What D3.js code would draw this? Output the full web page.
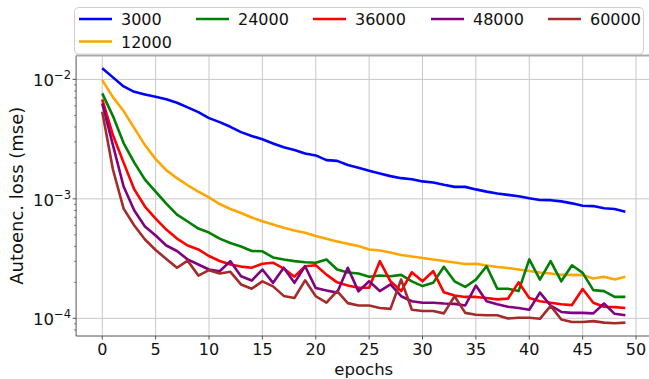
<!DOCTYPE html>
<html><head><meta charset="utf-8">
<script src="https://cdn.jsdelivr.net/npm/d3@7"></script>
<style>body{margin:0;background:#fff}svg{display:block;font-family:"DejaVu Sans",sans-serif}</style>
</head><body><div id="chart"></div>
<script>
const epochs = d3.range(0, 50);
const seriesNames = ["3000", "12000", "24000", "36000", "48000", "60000"];
const seriesColors = ["#0000ff", "#ffa500", "#008000", "#ff0000", "#800080", "#a52a2a"];
const loss3000 = [0.0124,0.0104,0.00874,0.00787,0.00749,0.00715,0.00681,0.00637,0.00583,0.00532,
  0.00474,0.00439,0.00401,0.00362,0.00336,0.00315,0.00291,0.00270,0.00256,0.00240,
  0.00231,0.00211,0.00208,0.00192,0.00182,0.00172,0.00163,0.00155,0.00149,0.00146,
  0.00140,0.00137,0.00131,0.00126,0.00126,0.00120,0.00115,0.00111,0.00108,0.00105,
  0.00101,0.000977,0.000975,0.000953,0.000917,0.000875,0.00087,0.000834,0.000822,0.000781];
const loss12000 = [0.00987,0.00711,0.00543,0.00391,0.00282,0.00215,0.00174,0.00149,0.00130,0.00115,
  0.00103,0.000905,0.000822,0.000761,0.000698,0.00065,0.00061,0.000572,0.000543,0.00052,
  0.000489,0.000463,0.00044,0.00042,0.000403,0.000377,0.000369,0.000355,0.000339,0.000329,
  0.00032,0.000311,0.000302,0.000293,0.000285,0.000286,0.000277,0.000269,0.000264,0.000256,
  0.000249,0.000242,0.000237,0.000231,0.000231,0.00023,0.000215,0.000223,0.000211,0.000223];
const loss24000 = [0.00764,0.00493,0.00293,0.00201,0.00145,0.00115,0.000913,0.000739,0.000646,0.000564,
  0.000522,0.000465,0.000427,0.000399,0.000366,0.000364,0.000323,0.000311,0.000301,0.000295,
  0.000292,0.000311,0.000256,0.000242,0.000237,0.000223,0.000228,0.000225,0.000231,0.000204,
  0.000186,0.000198,0.00027,0.000204,0.000183,0.000211,0.000273,0.000177,0.000177,0.000169,
  0.000311,0.000211,0.000301,0.000204,0.000278,0.00024,0.000172,0.000169,0.000151,0.000151];
const loss36000 = [0.00681,0.00342,0.00201,0.00120,0.000862,0.000684,0.000553,0.000465,0.000407,0.000377,
  0.000332,0.000302,0.000282,0.000271,0.000265,0.000286,0.000292,0.000261,0.000223,0.000273,
  0.000278,0.000232,0.0002,0.000188,0.00018,0.00018,0.000301,0.000204,0.000169,0.000243,
  0.000204,0.000248,0.000165,0.000155,0.000151,0.000151,0.000148,0.000144,0.000146,0.0002,
  0.000148,0.000139,0.000135,0.000131,0.000129,0.000176,0.000135,0.000125,0.000124,0.000122];
const loss48000 = [0.0063,0.00282,0.00127,0.000798,0.000586,0.000493,0.000407,0.000366,0.000311,0.000282,
  0.000256,0.000248,0.000301,0.000225,0.000207,0.000256,0.000198,0.000265,0.000198,0.000273,
  0.000179,0.000171,0.000164,0.000265,0.000168,0.000204,0.000169,0.000192,0.000153,0.000139,
  0.000135,0.000135,0.000133,0.000132,0.000128,0.000188,0.000139,0.000131,0.000125,0.000122,
  0.000118,0.000164,0.000128,0.000113,0.000111,0.000111,0.00011,0.000133,0.000109,0.000106];
const loss60000 = [0.00536,0.00176,0.000829,0.000598,0.000457,0.000373,0.000314,0.000265,0.000304,0.000228,
  0.000253,0.000237,0.000245,0.000192,0.000177,0.000204,0.000185,0.000154,0.000148,0.000208,
  0.000153,0.000135,0.000169,0.000134,0.000128,0.000128,0.000122,0.00012,0.000211,0.000118,
  0.000115,0.000115,0.00011,0.000153,0.000111,0.000107,0.000106,0.000106,0.0000996,0.000101,
  0.000101,0.000099,0.000127,0.0000977,0.000093,0.000093,0.0000947,0.000092,0.0000909,0.000092];
const seriesValues = [loss3000, loss12000, loss24000, loss36000, loss48000, loss60000];
const xTicks = [0, 5, 10, 15, 20, 25, 30, 35, 40, 45, 50];
const yTicks = [1e-4, 1e-3, 1e-2];
const yTickExps = ["−4", "−3", "−2"];
const xLabel = "epochs";
const yLabel = "Autoenc. loss (mse)";

const W = 649, H = 379;
const M = {left: 76.1, right: 651.5, top: 55.5, bottom: 336};
const svg = d3.select("#chart").append("svg").attr("width", W).attr("height", H);

const x = d3.scaleLinear().domain([-2.45, 51.45]).range([M.left, M.right]);
const allV = seriesValues.flat();
const lmin = Math.log10(d3.min(allV)), lmax = Math.log10(d3.max(allV));
const pad = (lmax - lmin) * 0.05;
const y = d3.scaleLog().domain([Math.pow(10, lmin - pad), Math.pow(10, lmax + pad)]).range([M.bottom, M.top]);

// grid
const g = svg.append("g");
g.selectAll(".gx").data(xTicks).join("line")
  .attr("x1", d => x(d)).attr("x2", d => x(d)).attr("y1", M.top).attr("y2", M.bottom)
  .attr("stroke", "#c8c8c8").attr("stroke-width", 1);
g.selectAll(".gy").data(yTicks).join("line")
  .attr("x1", M.left).attr("x2", M.right).attr("y1", d => y(d)).attr("y2", d => y(d))
  .attr("stroke", "#c8c8c8").attr("stroke-width", 1);

// lines
const line = d3.line().x((d, i) => x(epochs[i])).y(d => y(d));
svg.append("g").selectAll("path").data(seriesValues).join("path")
  .attr("d", d => line(d)).attr("fill", "none")
  .attr("stroke", (d, i) => seriesColors[i]).attr("stroke-width", 2.6)
  .attr("stroke-linejoin", "round").attr("stroke-linecap", "butt");

// spines
svg.append("line").attr("x1", M.left).attr("x2", M.left).attr("y1", M.top).attr("y2", M.bottom).attr("stroke", "#555").attr("stroke-width", 1);
svg.append("line").attr("x1", M.left).attr("x2", M.right).attr("y1", M.bottom).attr("y2", M.bottom).attr("stroke", "#555").attr("stroke-width", 1);
svg.append("line").attr("x1", M.left).attr("x2", M.right).attr("y1", M.top).attr("y2", M.top).attr("stroke", "#aaa").attr("stroke-width", 2);
svg.append("line").attr("x1", M.right).attr("x2", M.right).attr("y1", M.top).attr("y2", M.bottom).attr("stroke", "#555").attr("stroke-width", 1);

// x axis
const xa = svg.append("g");
xa.selectAll("line").data(xTicks).join("line")
  .attr("x1", d => x(d)).attr("x2", d => x(d)).attr("y1", M.bottom).attr("y2", M.bottom + 3.5)
  .attr("stroke", "#555");
xa.selectAll("text").data(xTicks).join("text")
  .attr("x", d => x(d)).attr("y", 355).attr("text-anchor", "middle")
  .attr("font-size", 16).attr("fill", "#111").text(d => d);
svg.append("text").attr("x", (M.left + M.right) / 2).attr("y", 375).attr("text-anchor", "middle")
  .attr("font-size", 16.5).attr("fill", "#111").text(xLabel);

// y axis
const ya = svg.append("g");
const [d0, d1] = y.domain();
const minor = [];
for (let e = -5; e <= -1; e++) for (let k = 2; k <= 9; k++) { const v = k * Math.pow(10, e); if (v >= d0 && v <= d1) minor.push(v); }
ya.selectAll(".mn").data(minor).join("line")
  .attr("x1", M.left - 2).attr("x2", M.left).attr("y1", d => y(d)).attr("y2", d => y(d)).attr("stroke", "#555").attr("stroke-width", 0.8);
ya.selectAll(".mj").data(yTicks).join("line")
  .attr("x1", M.left - 3.5).attr("x2", M.left).attr("y1", d => y(d)).attr("y2", d => y(d)).attr("stroke", "#555");
yTicks.forEach((v, i) => {
  const t = ya.append("text").attr("x", 71).attr("y", y(v) + 7).attr("text-anchor", "end").attr("fill", "#111");
  t.append("tspan").attr("font-size", 16.5).text("10");
  t.append("tspan").attr("font-size", 11.5).attr("dy", -7).text(yTickExps[i]);
});
svg.append("text").attr("transform", `translate(23,${(M.top + M.bottom) / 2}) rotate(-90)`)
  .attr("text-anchor", "middle").attr("font-size", 18).attr("fill", "#111").text(yLabel);

// legend
const lg = svg.append("g");
lg.append("rect").attr("x", 74.5).attr("y", 7.5).attr("width", 569).attr("height", 46.5).attr("rx", 4)
  .attr("fill", "#fff").attr("fill-opacity", 0.9).attr("stroke", "#d0d0d0").attr("stroke-width", 1);
const colX = [79, 196, 313, 431, 548];
const items = [[0, 0, 0], [1, 0, 1], [2, 1, 0], [3, 2, 0], [4, 3, 0], [5, 4, 0]];
items.forEach(([si, c, r]) => {
  const yy = 19 + r * 22.5;
  lg.append("line").attr("x1", colX[c]).attr("x2", colX[c] + 33).attr("y1", yy).attr("y2", yy)
    .attr("stroke", seriesColors[si]).attr("stroke-width", 2.6);
  lg.append("text").attr("x", colX[c] + 42).attr("y", yy + 6).attr("font-size", 16).attr("fill", "#111").text(seriesNames[si]);
});
</script></body></html>
